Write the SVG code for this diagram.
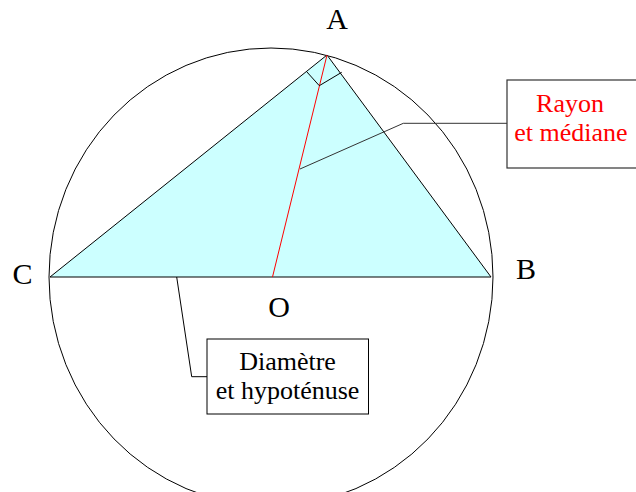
<svg xmlns="http://www.w3.org/2000/svg" width="636" height="492" viewBox="0 0 636 492">
<style>
.ln{fill:none;stroke:#000;stroke-width:1}
.lbl{font-family:"Liberation Serif","Times New Roman",serif;font-size:30px;fill:#000;text-anchor:middle}
.bx{font-family:"Liberation Serif","Times New Roman",serif;font-size:26px;text-anchor:middle}
.box{fill:#fff;stroke:#333;stroke-width:1.2}
</style>
<rect width="636" height="492" fill="#fff"/>
<g id="circle"><ellipse cx="271" cy="277" rx="222" ry="229" class="ln"/></g>
<g id="triangle">
<polygon points="327,55 50,277 491,277" fill="#ccffff" stroke="#000" stroke-width="1"/>
</g>
<g id="connectors">
<line x1="327" y1="55" x2="272.5" y2="277" stroke="#f00" stroke-width="1"/>
<polyline points="306.7,71.7 319.3,85.7 341.7,72.3" class="ln"/>
<polyline points="507,123.3 403.3,123.3 300,169" fill="none" stroke="#333" stroke-width="1"/>
<polyline points="176.7,277 191.7,376.7 207,376.7" class="ln"/>
</g>
<g id="labelA"><text class="lbl" x="337" y="29">A</text></g>
<g id="labelC"><text class="lbl" x="22.5" y="284">C</text></g>
<g id="labelB"><text class="lbl" x="526" y="279">B</text></g>
<g id="labelO"><text class="lbl" x="279" y="317">O</text></g>
<g id="rayon">
<rect class="box" x="507" y="80" width="140" height="88"/>
<text class="bx" font-family="Liberation Serif, serif" fill="#f00" x="570" y="111.5">Rayon</text>
<text class="bx" font-family="Liberation Serif, serif" fill="#f00" x="571" y="140.5">et médiane</text>
</g>
<g id="diametre">
<rect x="207" y="339" width="161.5" height="75" fill="#fff" stroke="#000" stroke-width="1"/>
<text class="bx" font-family="Liberation Serif, serif" fill="#000" x="287.5" y="370">Diamètre</text>
<text class="bx" font-family="Liberation Serif, serif" fill="#000" x="287.5" y="398.5">et hypoténuse</text>
</g>
</svg>
